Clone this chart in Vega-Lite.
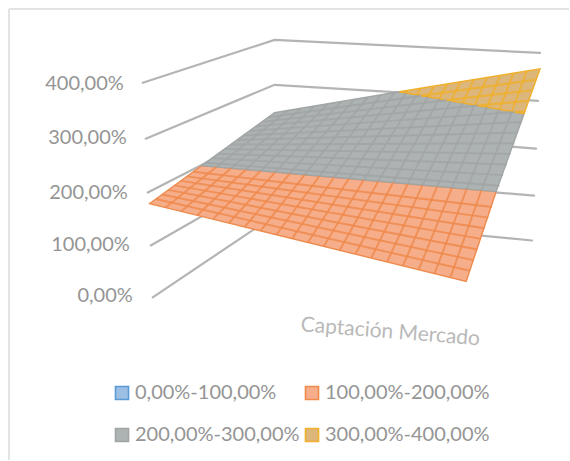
{
  "$schema": "https://vega.github.io/schema/vega-lite/v6.json",
  "width": 570,
  "height": 461,
  "padding": 0,
  "autosize": {"type": "fit", "contains": "padding"},
  "background": "white",
  "config": {"view": {"stroke": null}, "font": "Lato"},
  "datasets": {
    "marco": [
      {"u": 9, "v": 9, "u2": 570, "v2": 9},
      {"u": 9, "v": 9, "u2": 9, "v2": 461}
    ],
    "muros": [
      {"nivel": "400", "u": 143, "v": 83},
      {"nivel": "400", "u": 275, "v": 40},
      {"nivel": "400", "u": 541, "v": 53},
      {"nivel": "300", "u": 146, "v": 139},
      {"nivel": "300", "u": 275, "v": 85},
      {"nivel": "300", "u": 539, "v": 101},
      {"nivel": "200", "u": 148, "v": 193},
      {"nivel": "200", "u": 275, "v": 128},
      {"nivel": "200", "u": 537, "v": 149},
      {"nivel": "100", "u": 151, "v": 246},
      {"nivel": "100", "u": 275, "v": 175},
      {"nivel": "100", "u": 535, "v": 196},
      {"nivel": "0", "u": 153, "v": 298},
      {"nivel": "0", "u": 275, "v": 216},
      {"nivel": "0", "u": 533, "v": 241}
    ],
    "superficie": [
      {"rango": "100,00%-200,00%", "u": 150, "sup": 204, "inf": 204},
      {"rango": "100,00%-200,00%", "u": 202, "sup": 166, "inf": 216.8},
      {"rango": "100,00%-200,00%", "u": 467, "sup": 189.4, "inf": 282},
      {"rango": "100,00%-200,00%", "u": 497, "sup": 192, "inf": 192},
      {"rango": "200,00%-300,00%", "u": 202, "sup": 166, "inf": 166},
      {"rango": "200,00%-300,00%", "u": 275, "sup": 113, "inf": 172.4},
      {"rango": "200,00%-300,00%", "u": 400, "sup": 92, "inf": 183.4},
      {"rango": "200,00%-300,00%", "u": 497, "sup": 109.1, "inf": 192},
      {"rango": "200,00%-300,00%", "u": 525, "sup": 114, "inf": 114},
      {"rango": "300,00%-400,00%", "u": 400, "sup": 92, "inf": 92},
      {"rango": "300,00%-400,00%", "u": 525, "sup": 71.6, "inf": 114},
      {"rango": "300,00%-400,00%", "u": 541, "sup": 69, "inf": 69}
    ],
    "malla": [
      {"rango": "100,00%-200,00%", "u": 165.85, "v": 207.9, "u2": 216.75, "v2": 167.3},
      {"rango": "100,00%-200,00%", "u": 181.7, "v": 211.8, "u2": 231.5, "v2": 168.6},
      {"rango": "100,00%-200,00%", "u": 197.55, "v": 215.7, "u2": 246.25, "v2": 169.9},
      {"rango": "100,00%-200,00%", "u": 213.4, "v": 219.6, "u2": 261, "v2": 171.2},
      {"rango": "100,00%-200,00%", "u": 229.25, "v": 223.5, "u2": 275.75, "v2": 172.5},
      {"rango": "100,00%-200,00%", "u": 245.1, "v": 227.4, "u2": 290.5, "v2": 173.8},
      {"rango": "100,00%-200,00%", "u": 260.95, "v": 231.3, "u2": 305.25, "v2": 175.1},
      {"rango": "100,00%-200,00%", "u": 276.8, "v": 235.2, "u2": 320, "v2": 176.4},
      {"rango": "100,00%-200,00%", "u": 292.65, "v": 239.1, "u2": 334.75, "v2": 177.7},
      {"rango": "100,00%-200,00%", "u": 308.5, "v": 243, "u2": 349.5, "v2": 179},
      {"rango": "100,00%-200,00%", "u": 324.35, "v": 246.9, "u2": 364.25, "v2": 180.3},
      {"rango": "100,00%-200,00%", "u": 340.2, "v": 250.8, "u2": 379, "v2": 181.6},
      {"rango": "100,00%-200,00%", "u": 356.05, "v": 254.7, "u2": 393.75, "v2": 182.9},
      {"rango": "100,00%-200,00%", "u": 371.9, "v": 258.6, "u2": 408.5, "v2": 184.2},
      {"rango": "100,00%-200,00%", "u": 387.75, "v": 262.5, "u2": 423.25, "v2": 185.5},
      {"rango": "100,00%-200,00%", "u": 403.6, "v": 266.4, "u2": 438, "v2": 186.8},
      {"rango": "100,00%-200,00%", "u": 419.45, "v": 270.3, "u2": 452.75, "v2": 188.1},
      {"rango": "100,00%-200,00%", "u": 435.3, "v": 274.2, "u2": 467.5, "v2": 189.4},
      {"rango": "100,00%-200,00%", "u": 451.15, "v": 278.1, "u2": 482.25, "v2": 190.7},
      {"rango": "100,00%-200,00%", "u": 156.25, "v": 199.45, "u2": 470.7, "v2": 271.35},
      {"rango": "100,00%-200,00%", "u": 162.5, "v": 194.9, "u2": 474.4, "v2": 260.7},
      {"rango": "100,00%-200,00%", "u": 168.75, "v": 190.35, "u2": 478.1, "v2": 250.05},
      {"rango": "100,00%-200,00%", "u": 175, "v": 185.8, "u2": 481.8, "v2": 239.4},
      {"rango": "100,00%-200,00%", "u": 181.25, "v": 181.25, "u2": 485.5, "v2": 228.75},
      {"rango": "100,00%-200,00%", "u": 187.5, "v": 176.7, "u2": 489.2, "v2": 218.1},
      {"rango": "100,00%-200,00%", "u": 193.75, "v": 172.15, "u2": 492.9, "v2": 207.45},

      {"rango": "200,00%-300,00%", "u": 216.75, "v": 167.3, "u2": 288.3, "v2": 110.8},
      {"rango": "200,00%-300,00%", "u": 231.5, "v": 168.6, "u2": 301.6, "v2": 108.6},
      {"rango": "200,00%-300,00%", "u": 246.25, "v": 169.9, "u2": 314.9, "v2": 106.4},
      {"rango": "200,00%-300,00%", "u": 261, "v": 171.2, "u2": 328.2, "v2": 104.2},
      {"rango": "200,00%-300,00%", "u": 275.75, "v": 172.5, "u2": 341.5, "v2": 102},
      {"rango": "200,00%-300,00%", "u": 290.5, "v": 173.8, "u2": 354.8, "v2": 99.8},
      {"rango": "200,00%-300,00%", "u": 305.25, "v": 175.1, "u2": 368.1, "v2": 97.6},
      {"rango": "200,00%-300,00%", "u": 320, "v": 176.4, "u2": 381.4, "v2": 95.4},
      {"rango": "200,00%-300,00%", "u": 334.75, "v": 177.7, "u2": 394.7, "v2": 93.2},
      {"rango": "200,00%-300,00%", "u": 349.5, "v": 179, "u2": 406.6, "v2": 93.2},
      {"rango": "200,00%-300,00%", "u": 364.25, "v": 180.3, "u2": 417.4, "v2": 95.1},
      {"rango": "200,00%-300,00%", "u": 379, "v": 181.6, "u2": 428.6, "v2": 97},
      {"rango": "200,00%-300,00%", "u": 393.75, "v": 182.9, "u2": 440, "v2": 99},
      {"rango": "200,00%-300,00%", "u": 408.5, "v": 184.2, "u2": 451.6, "v2": 101.1},
      {"rango": "200,00%-300,00%", "u": 423.25, "v": 185.5, "u2": 463.5, "v2": 103.2},
      {"rango": "200,00%-300,00%", "u": 438, "v": 186.8, "u2": 475.5, "v2": 105.3},
      {"rango": "200,00%-300,00%", "u": 452.75, "v": 188.1, "u2": 487.7, "v2": 107.4},
      {"rango": "200,00%-300,00%", "u": 467.5, "v": 189.4, "u2": 500.1, "v2": 109.6},
      {"rango": "200,00%-300,00%", "u": 482.25, "v": 190.7, "u2": 512.7, "v2": 111.8},
      {"rango": "200,00%-300,00%", "u": 206.25, "v": 163.05, "u2": 500.3, "v2": 186.15},
      {"rango": "200,00%-300,00%", "u": 212.5, "v": 158.5, "u2": 504, "v2": 175.5},
      {"rango": "200,00%-300,00%", "u": 218.75, "v": 153.95, "u2": 507.7, "v2": 164.85},
      {"rango": "200,00%-300,00%", "u": 225, "v": 149.4, "u2": 511.4, "v2": 154.2},
      {"rango": "200,00%-300,00%", "u": 231.25, "v": 144.85, "u2": 515.1, "v2": 143.55},
      {"rango": "200,00%-300,00%", "u": 237.5, "v": 140.3, "u2": 518.8, "v2": 132.9},
      {"rango": "200,00%-300,00%", "u": 243.75, "v": 135.75, "u2": 522.5, "v2": 122.25},
      {"rango": "200,00%-300,00%", "u": 250, "v": 131.2, "u2": 515.6, "v2": 112.3},
      {"rango": "200,00%-300,00%", "u": 256.25, "v": 126.65, "u2": 478.5, "v2": 105.8},
      {"rango": "200,00%-300,00%", "u": 262.5, "v": 122.1, "u2": 447.6, "v2": 100.4},
      {"rango": "200,00%-300,00%", "u": 268.75, "v": 117.55, "u2": 422.2, "v2": 95.9},

      {"rango": "300,00%-400,00%", "u": 406.6, "v": 93.2, "u2": 408, "v2": 91},
      {"rango": "300,00%-400,00%", "u": 417.4, "v": 95.1, "u2": 421.3, "v2": 88.8},
      {"rango": "300,00%-400,00%", "u": 428.6, "v": 97, "u2": 434.6, "v2": 86.6},
      {"rango": "300,00%-400,00%", "u": 440, "v": 99, "u2": 447.9, "v2": 84.4},
      {"rango": "300,00%-400,00%", "u": 451.6, "v": 101.1, "u2": 461.2, "v2": 82.2},
      {"rango": "300,00%-400,00%", "u": 463.5, "v": 103.2, "u2": 474.5, "v2": 80},
      {"rango": "300,00%-400,00%", "u": 475.5, "v": 105.3, "u2": 487.8, "v2": 77.8},
      {"rango": "300,00%-400,00%", "u": 487.7, "v": 107.4, "u2": 501.1, "v2": 75.6},
      {"rango": "300,00%-400,00%", "u": 500.1, "v": 109.6, "u2": 514.4, "v2": 73.4},
      {"rango": "300,00%-400,00%", "u": 512.7, "v": 111.8, "u2": 527.7, "v2": 71.2},
      {"rango": "300,00%-400,00%", "u": 515.6, "v": 112.3, "u2": 526.2, "v2": 111.6},
      {"rango": "300,00%-400,00%", "u": 478.5, "v": 105.8, "u2": 529.9, "v2": 101},
      {"rango": "300,00%-400,00%", "u": 447.6, "v": 100.4, "u2": 533.6, "v2": 90.3},
      {"rango": "300,00%-400,00%", "u": 422.2, "v": 95.9, "u2": 537.3, "v2": 79.65}
    ],
    "rotulos": [
      {"texto": "400,00%", "u": 124, "v": 84},
      {"texto": "300,00%", "u": 127, "v": 138},
      {"texto": "200,00%", "u": 128, "v": 193},
      {"texto": "100,00%", "u": 130, "v": 246},
      {"texto": "0,00%", "u": 133, "v": 297}
    ],
    "titulo": [
      {"texto": "Captación Mercado", "u": 391, "v": 333}
    ]
  },
  "layer": [
    {
      "data": {"name": "marco"},
      "mark": {"type": "rule", "stroke": "#e3e3e3", "strokeWidth": 2},
      "encoding": {
        "x": {"field": "u", "type": "quantitative", "scale": {"domain": [0, 570], "nice": false, "zero": false}, "axis": null},
        "y": {"field": "v", "type": "quantitative", "scale": {"domain": [461, 0], "nice": false, "zero": false}, "axis": null},
        "x2": {"field": "u2"},
        "y2": {"field": "v2"}
      }
    },
    {
      "data": {"name": "muros"},
      "mark": {"type": "line", "stroke": "#b4b4b4", "strokeWidth": 2.2, "strokeCap": "round"},
      "encoding": {
        "x": {"field": "u", "type": "quantitative", "axis": null},
        "y": {"field": "v", "type": "quantitative", "axis": null},
        "detail": {"field": "nivel"}
      }
    },
    {
      "data": {"name": "superficie"},
      "mark": {"type": "area", "strokeWidth": 1.4, "opacity": 1},
      "encoding": {
        "x": {"field": "u", "type": "quantitative", "axis": null},
        "y": {"field": "sup", "type": "quantitative", "axis": null},
        "y2": {"field": "inf"},
        "fill": {
          "field": "rango",
          "type": "nominal",
          "scale": {
            "domain": ["0,00%-100,00%", "100,00%-200,00%", "200,00%-300,00%", "300,00%-400,00%"],
            "range": ["#9dbfe4", "#f6ad8a", "#adb2b2", "#dcb67a"]
          },
          "legend": {
            "title": null,
            "orient": "none",
            "direction": "horizontal",
            "legendX": 112,
            "legendY": 383,
            "columns": 2,
            "columnPadding": 2,
            "rowPadding": 22,
            "padding": 0,
            "symbolType": "square",
            "symbolSize": 170,
            "symbolStrokeWidth": 1.6,
            "symbolOpacity": 1,
            "labelFont": "Lato",
            "labelFontSize": 20,
            "labelColor": "#959595",
            "labelOffset": 3,
            "labelLimit": 220
          }
        },
        "stroke": {
          "field": "rango",
          "type": "nominal",
          "scale": {
            "domain": ["0,00%-100,00%", "100,00%-200,00%", "200,00%-300,00%", "300,00%-400,00%"],
            "range": ["#5b9bd5", "#ee8a4c", "#a1a5a5", "#f0b02c"]
          },
          "legend": {
            "title": null,
            "orient": "none",
            "direction": "horizontal",
            "legendX": 112,
            "legendY": 383,
            "columns": 2,
            "columnPadding": 2,
            "rowPadding": 22,
            "padding": 0,
            "symbolType": "square",
            "symbolSize": 170,
            "symbolStrokeWidth": 1.6,
            "symbolOpacity": 1,
            "labelFont": "Lato",
            "labelFontSize": 20,
            "labelColor": "#959595",
            "labelOffset": 3,
            "labelLimit": 220
          }
        }
      }
    },
    {
      "data": {"name": "malla"},
      "mark": {"type": "rule", "strokeWidth": 1.9, "opacity": 0.85},
      "encoding": {
        "x": {"field": "u", "type": "quantitative", "axis": null},
        "y": {"field": "v", "type": "quantitative", "axis": null},
        "x2": {"field": "u2"},
        "y2": {"field": "v2"},
        "stroke": {"field": "rango", "type": "nominal"}
      }
    },
    {
      "data": {"name": "rotulos"},
      "mark": {"type": "text", "align": "right", "baseline": "middle", "font": "Lato", "fontSize": 20, "color": "#959595"},
      "encoding": {
        "x": {"field": "u", "type": "quantitative", "axis": null},
        "y": {"field": "v", "type": "quantitative", "axis": null},
        "text": {"field": "texto"}
      }
    },
    {
      "data": {"name": "titulo"},
      "mark": {"type": "text", "align": "center", "baseline": "middle", "font": "Lato", "fontSize": 21, "color": "#b9b9b9", "angle": 4.5},
      "encoding": {
        "x": {"field": "u", "type": "quantitative", "axis": null},
        "y": {"field": "v", "type": "quantitative", "axis": null},
        "text": {"field": "texto"}
      }
    }
  ]
}
